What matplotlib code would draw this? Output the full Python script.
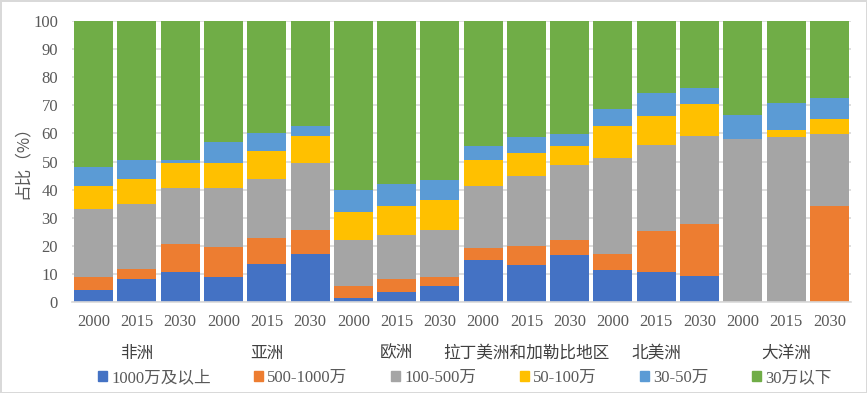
import numpy as np
import matplotlib.pyplot as plt
from matplotlib.patches import Rectangle

# 数据（累计高度读自图中，再换算为各段占比）
years = ['2000', '2015', '2030'] * 6
regions = ['非洲', '亚洲', '欧洲', '拉丁美洲和加勒比地区', '北美洲', '大洋洲']
series = ['1000万及以上', '500-1000万', '100-500万', '50-100万', '30-50万', '30万以下']
colors = ['#4472C4', '#ED7D31', '#A5A5A5', '#FFC000', '#5B9BD5', '#70AD47']

# 各段顶部的累计值
cum_blue   = [4.3, 8.3, 10.7, 9.0, 13.6, 17.1, 1.4, 3.6, 5.7, 14.8, 13.3, 16.9, 11.4, 10.5, 9.3, 0.0, 0.0, 0.0]
cum_orange = [9.0, 11.9, 20.5, 19.6, 22.9, 25.7, 5.7, 8.3, 9.0, 19.3, 19.8, 21.9, 17.1, 25.1, 27.9, 0.0, 0.0, 34.0]
cum_gray   = [33.2, 35.0, 40.7, 40.4, 43.6, 49.3, 22.1, 24.0, 25.5, 41.4, 44.8, 48.6, 51.4, 55.7, 59.0, 57.9, 58.6, 59.8]
cum_yellow = [41.4, 43.6, 49.6, 49.6, 53.6, 59.0, 32.1, 34.3, 36.2, 50.7, 52.9, 55.5, 62.6, 66.2, 70.5, 57.9, 61.2, 65.1]
cum_lblue  = [47.9, 50.6, 50.6, 56.9, 60.0, 62.6, 40.0, 42.1, 43.3, 55.5, 58.6, 59.8, 68.6, 74.3, 76.2, 66.4, 70.7, 72.6]
cum_green  = [100.0] * 18

cums = np.array([cum_blue, cum_orange, cum_gray, cum_yellow, cum_lblue, cum_green])
vals = np.diff(np.vstack([np.zeros(18), cums]), axis=0)

serif = ['Liberation Serif', 'Noto Sans CJK SC']
cjk = ['Noto Sans CJK SC', 'DejaVu Sans']
txtc = '#595959'

fig = plt.figure(figsize=(8.67, 3.93), dpi=100)
fig.patch.set_edgecolor('#D9D9D9')
fig.patch.set_linewidth(2)
ax = fig.add_axes([72/867, 91/393, 779/867, 281/393])

x = np.arange(18)
bottom = np.zeros(18)
for i in range(6):
    ax.bar(x, vals[i], bottom=bottom, width=0.9, color=colors[i], label=series[i], zorder=2)
    bottom += vals[i]

ax.set_xlim(-0.5, 17.5)
ax.set_ylim(0, 100)
ax.set_yticks(range(0, 101, 10))
ax.yaxis.grid(True, color='#D9D9D9', linewidth=1.2, zorder=0)
ax.set_axisbelow(True)
for s in ['left', 'right', 'top']:
    ax.spines[s].set_visible(False)
ax.spines['bottom'].set_color('#D9D9D9')
ax.spines['bottom'].set_linewidth(1.2)
ax.tick_params(length=0)
ax.set_xticks(x)
ax.set_xticklabels(years, fontfamily=serif, fontsize=12, color=txtc)
for lab in ax.get_yticklabels():
    lab.set_fontfamily(serif)
    lab.set_fontsize(12)
    lab.set_color(txtc)
ax.tick_params(axis='x', pad=9)
ax.tick_params(axis='y', pad=10)

for k, r in enumerate(regions):
    ax.text(3 * k + 1, -18.2, r, ha='center', va='center', fontsize=12,
            family=cjk, fontweight='light', color='#404040',
            transform=ax.transData, clip_on=False)

fig.text(22/867, 1 - 158/393, '占比（%）', rotation=90, ha='center', va='center',
         fontsize=12, family=cjk, fontweight='light', color=txtc)

handles = [Rectangle((0, 0), 1, 1, color=c) for c in colors]
leg = fig.legend(handles, series, loc='center', bbox_to_anchor=(0.536, 1 - 378/393),
                 ncol=6, frameon=False, prop={'family': serif, 'size': 12},
                 handlelength=0.55, handleheight=0.55, handletextpad=0.25, columnspacing=2.6)
for t in leg.get_texts():
    t.set_color(txtc)

fig.savefig('out.png', dpi=100)
